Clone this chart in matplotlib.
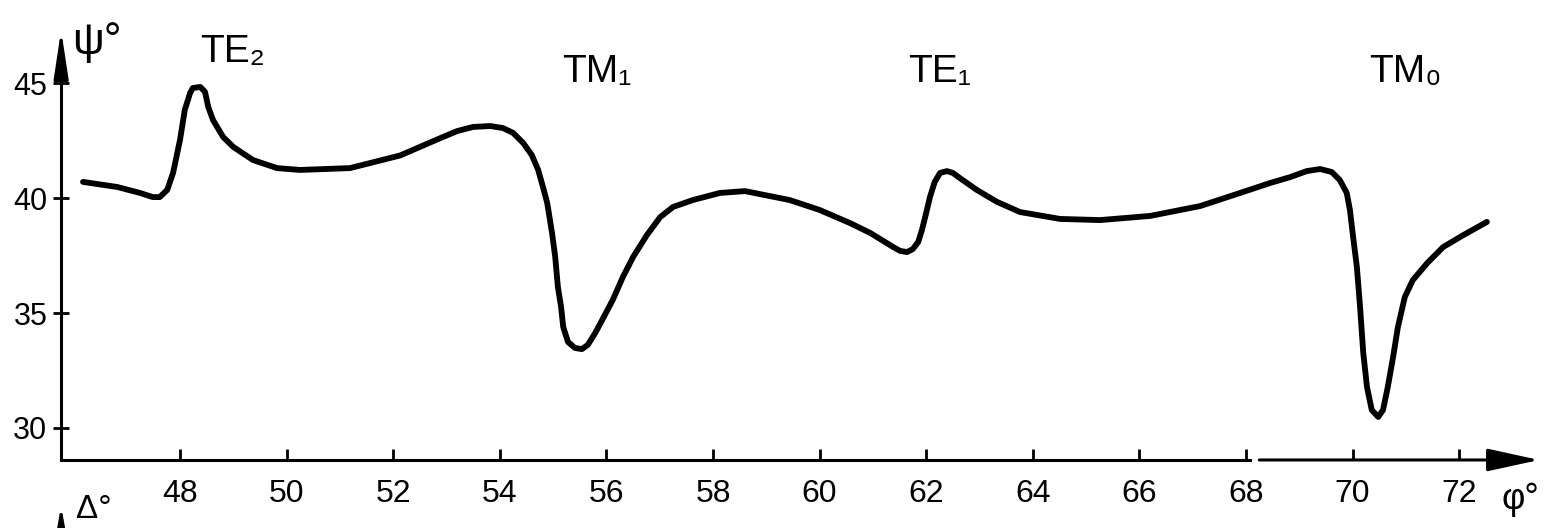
import matplotlib
matplotlib.use("Agg")
import matplotlib.pyplot as plt

plt.rcParams['font.family'] = ['Liberation Sans', 'DejaVu Sans']

# incidence angle phi (deg) and ellipsometric angle psi (deg)
phi = [46.18, 46.82, 47.25, 47.49, 47.62, 47.76, 47.87, 48.00, 48.09, 48.19,
       48.24, 48.38, 48.47, 48.53, 48.62, 48.81, 49.00, 49.37, 49.82, 50.25,
       51.19, 52.13, 52.88, 53.20, 53.50, 53.82, 54.06, 54.25, 54.44, 54.60,
       54.72, 54.81, 54.89, 54.98, 55.04, 55.09, 55.15, 55.19, 55.28, 55.41,
       55.54, 55.65, 55.79, 55.94, 56.12, 56.31, 56.50, 56.76, 57.01, 57.25,
       57.62, 58.13, 58.60, 59.44, 60.00, 60.57, 60.95, 61.38, 61.51, 61.64,
       61.75, 61.85, 61.92, 62.00, 62.07, 62.16, 62.26, 62.39, 62.50, 62.63,
       62.95, 63.33, 63.76, 64.51, 65.26, 66.20, 67.14, 67.89, 68.45, 68.83,
       69.14, 69.39, 69.61, 69.76, 69.89, 69.95, 70.01, 70.08, 70.14, 70.20,
       70.27, 70.36, 70.48, 70.57, 70.66, 70.76, 70.85, 70.98, 71.13, 71.40,
       71.70, 72.08, 72.52]
psi = [40.70, 40.48, 40.22, 40.04, 40.04, 40.35, 41.09, 42.52, 43.83, 44.57,
       44.78, 44.83, 44.61, 43.96, 43.39, 42.65, 42.22, 41.65, 41.30, 41.22,
       41.30, 41.85, 42.60, 42.91, 43.09, 43.13, 43.04, 42.83, 42.39, 41.87,
       41.22, 40.48, 39.78, 38.48, 37.43, 36.13, 35.26, 34.39, 33.74, 33.48,
       33.43, 33.61, 34.13, 34.78, 35.57, 36.57, 37.43, 38.39, 39.17, 39.61,
       39.91, 40.22, 40.30, 39.91, 39.48, 38.91, 38.48, 37.87, 37.70, 37.65,
       37.78, 38.09, 38.61, 39.35, 40.04, 40.70, 41.09, 41.17, 41.09, 40.87,
       40.35, 39.83, 39.39, 39.09, 39.04, 39.22, 39.65, 40.22, 40.65, 40.91,
       41.17, 41.26, 41.13, 40.78, 40.22, 39.48, 38.30, 37.00, 35.26, 33.26,
       31.78, 30.78, 30.48, 30.78, 31.78, 33.09, 34.39, 35.70, 36.43, 37.17,
       37.87, 38.39, 38.96]

x_ticks = [48, 50, 52, 54, 56, 58, 60, 62, 64, 66, 68, 70, 72]
y_ticks = [30, 35, 40, 45]

mode_labels = ['TE₂', 'TM₁', 'TE₁', 'TM₀']
mode_phi = [48.99, 55.82, 62.26, 70.98]
mode_psi = [46.35, 45.48, 45.48, 45.48]

X0, Y0 = 45.77, 28.61  # axis origin

fig = plt.figure(figsize=(15.56, 5.28), dpi=100)
ax = fig.add_axes([0, 0, 1, 1])
ax.set_xlim(44.623, 73.816)
ax.set_ylim(25.652, 48.609)
ax.patch.set_visible(False)

ax.plot(phi, psi, color='black', lw=4.2, solid_joinstyle='round',
        solid_capstyle='round')

for s in ['top', 'right']:
    ax.spines[s].set_visible(False)
ax.spines['left'].set_position(('data', X0))
ax.spines['bottom'].set_position(('data', Y0))
ax.spines['left'].set_bounds(Y0, 45.6)
ax.spines['bottom'].set_bounds(X0, 68.08)
for s in ['left', 'bottom']:
    ax.spines[s].set_linewidth(2.2)

ax.set_xticks(x_ticks)
ax.set_xticklabels([str(v) for v in x_ticks])
ax.set_yticks(y_ticks)
ax.set_yticklabels([str(v) for v in y_ticks])
ax.tick_params(axis='x', direction='in', length=8, width=2, pad=14,
               labelsize=23)
ax.tick_params(axis='y', direction='inout', length=12, width=2, pad=4,
               labelsize=22)

# axis arrows
ax.annotate('', xy=(73.5, Y0), xytext=(68.25, Y0),
            arrowprops=dict(arrowstyle='-|>,head_length=1.6,head_width=0.35',
                            lw=2.2, color='black', mutation_scale=20,
                            shrinkA=0, shrinkB=0))
ax.annotate('', xy=(X0, 47.3), xytext=(X0, 45.5),
            arrowprops=dict(arrowstyle='-|>,head_length=1.45,head_width=0.22',
                            lw=2.2, color='black', mutation_scale=20,
                            shrinkA=0, shrinkB=0))
ax.annotate('', xy=(X0, 26.6), xytext=(X0, 25.5),
            arrowprops=dict(arrowstyle='-|>,head_length=1.2,head_width=0.22',
                            lw=2.2, color='black', mutation_scale=20,
                            shrinkA=0, shrinkB=0))

# axis names
ax.text(45.97, 46.78, 'ψ°', fontsize=32, ha='left', va='center')
ax.text(46.05, 26.45, 'Δ°', fontsize=24, ha='left', va='center')
ax.text(73.14, 26.87, 'φ°', fontsize=26, ha='center', va='center')

for lab, xp, yp in zip(mode_labels, mode_phi, mode_psi):
    ax.text(xp, yp, lab, fontsize=28, ha='center', va='center')

fig.savefig('out.png', dpi=100)
